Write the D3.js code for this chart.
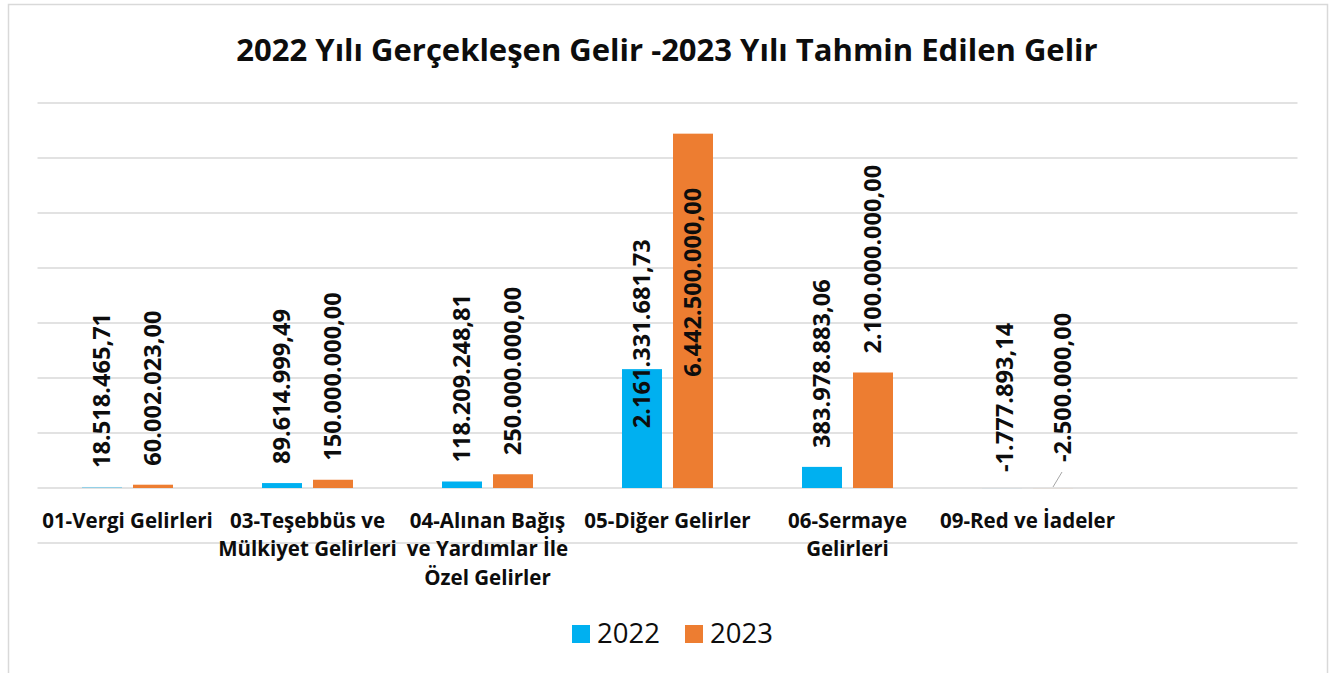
<!DOCTYPE html>
<html>
<head>
<meta charset="utf-8">
<script src="https://cdn.jsdelivr.net/npm/d3@7"></script>
<style>
  body { margin: 0; background: #fff; }
  svg { display: block; font-family: "Open Sans", "Noto Sans", sans-serif; }
</style>
</head>
<body>
<div id="chart"></div>
<script>
// chart data
const categories = [
  "01-Vergi Gelirleri",
  "03-Teşebbüs ve Mülkiyet Gelirleri",
  "04-Alınan Bağış ve Yardımlar İle Özel Gelirler",
  "05-Diğer Gelirler",
  "06-Sermaye Gelirleri",
  "09-Red ve İadeler"
];
// how the category names wrap under the axis
const categoryLines = [
  ["01-Vergi Gelirleri"],
  ["03-Teşebbüs ve", "Mülkiyet Gelirleri"],
  ["04-Alınan Bağış", "ve Yardımlar İle", "Özel Gelirler"],
  ["05-Diğer Gelirler"],
  ["06-Sermaye", "Gelirleri"],
  ["09-Red ve İadeler"]
];
const years = ["2022", "2023"];
const values2022 = [18518465.71, 89614999.49, 118209248.81, 2161331681.73, 383978883.06, -1777893.14];
const values2023 = [60002023.00, 150000000.00, 250000000.00, 6442500000.00, 2100000000.00, -2500000.00];
const gridValues = [-1e9, 0, 1e9, 2e9, 3e9, 4e9, 5e9, 6e9, 7e9];
const title = "2022 Yılı Gerçekleşen Gelir -2023 Yılı Tahmin Edilen Gelir";

const colors = { "2022": "#00B0F0", "2023": "#ED7D31" };

const W = 1339, H = 673;
const plotLeft = 37.5, plotRight = 1297.5, bandW = 180;

const svg = d3.select("#chart").append("svg")
  .attr("width", W)
  .attr("height", H);

// outer chart border
svg.append("rect")
  .attr("x", 8.5).attr("y", 4.5)
  .attr("width", 1319).attr("height", 720)
  .attr("fill", "none")
  .attr("stroke", "#d9d9d9")
  .attr("stroke-width", 1.5);

svg.append("text")
  .attr("x", 667).attr("y", 61)
  .attr("text-anchor", "middle")
  .attr("font-size", 31)
  .attr("font-weight", 700)
  .attr("fill", "#0d0d0d")
  .text(title);

const x0 = d3.scaleBand()
  .domain(categories)
  .range([plotLeft, plotLeft + bandW * categories.length]);

const x1 = d3.scaleBand()
  .domain(years)
  .range([44.5, 135.5])
  .paddingInner(11 / 51);

const y = d3.scaleLinear()
  .domain([-1e9, 7e9])
  .range([543, 103]);

// gridlines
svg.append("g")
  .selectAll("line")
  .data(gridValues)
  .join("line")
  .attr("x1", plotLeft).attr("x2", plotRight)
  .attr("y1", d => y(d)).attr("y2", d => y(d))
  .attr("stroke", "#d9d9d9")
  .attr("stroke-width", 1.5);

const rows = categories.map((c, i) => ({
  cat: c,
  lines: categoryLines[i],
  bars: [
    { cat: c, year: "2022", v: values2022[i] },
    { cat: c, year: "2023", v: values2023[i] }
  ]
}));

const trFormat = d3.formatLocale({
  decimal: ",", thousands: ".", grouping: [3], currency: ["", " ₺"], minus: "-"
}).format(",.2f");

const groups = svg.append("g")
  .selectAll("g")
  .data(rows)
  .join("g")
  .attr("transform", d => `translate(${x0(d.cat)},0)`);

groups.selectAll("rect")
  .data(d => d.bars)
  .join("rect")
  .attr("x", d => x1(d.year))
  .attr("width", x1.bandwidth())
  .attr("y", d => y(Math.max(0, d.v)))
  .attr("height", d => Math.abs(y(d.v) - y(0)))
  .attr("fill", d => colors[d.year])
  .attr("fill-opacity", d => Math.abs(y(d.v) - y(0)) < 1.5 ? 0.35 : 1);

// manual label moves, as in the original (keyed by category index + year)
const labelNudge = {
  "3|2022": { dx: 0, dy: 78 },
  "3|2023": { dx: 0, dy: 262 },
  "5|2022": { dx: 3, dy: 3 },
  "5|2023": { dx: 10, dy: -7, leader: true }
};

groups.each(function (row, i) {
  const g = d3.select(this);
  row.bars.forEach(b => {
    const n = labelNudge[i + "|" + b.year] || { dx: 0, dy: 0 };
    const cx = x1(b.year) + x1.bandwidth() / 2;
    const lx = cx + n.dx;
    const ly = y(Math.max(0, b.v)) - 19 + n.dy;
    if (n.leader) {
      g.append("line")
        .attr("x1", cx).attr("y1", y(0) - 1)
        .attr("x2", lx - 1).attr("y2", ly + 10)
        .attr("stroke", "#a6a6a6")
        .attr("stroke-width", 1);
    }
    g.append("text")
      .attr("transform", `translate(${lx},${ly}) rotate(-90)`)
      .attr("dy", "0.35em")
      .attr("font-size", 23.6)
      .attr("font-weight", 700)
      .attr("fill", "#0d0d0d")
      .text(trFormat(b.v));
  });
});

// category labels
groups.append("text")
  .attr("text-anchor", "middle")
  .attr("font-size", 20.5)
  .attr("font-weight", 700)
  .attr("fill", "#0d0d0d")
  .selectAll("tspan")
  .data(d => d.lines)
  .join("tspan")
  .attr("x", bandW / 2)
  .attr("y", (d, i) => 527.5 + i * 28.5)
  .text(d => d);

// legend
const legend = svg.append("g")
  .selectAll("g")
  .data(years)
  .join("g")
  .attr("transform", (d, i) => `translate(${572 + i * 113},625)`);

legend.append("rect")
  .attr("width", 18).attr("height", 18)
  .attr("fill", d => colors[d]);

legend.append("text")
  .attr("x", 25).attr("y", 18)
  .attr("font-size", 27.5)
  .attr("fill", "#0d0d0d")
  .text(d => d);
</script>
</body>
</html>
